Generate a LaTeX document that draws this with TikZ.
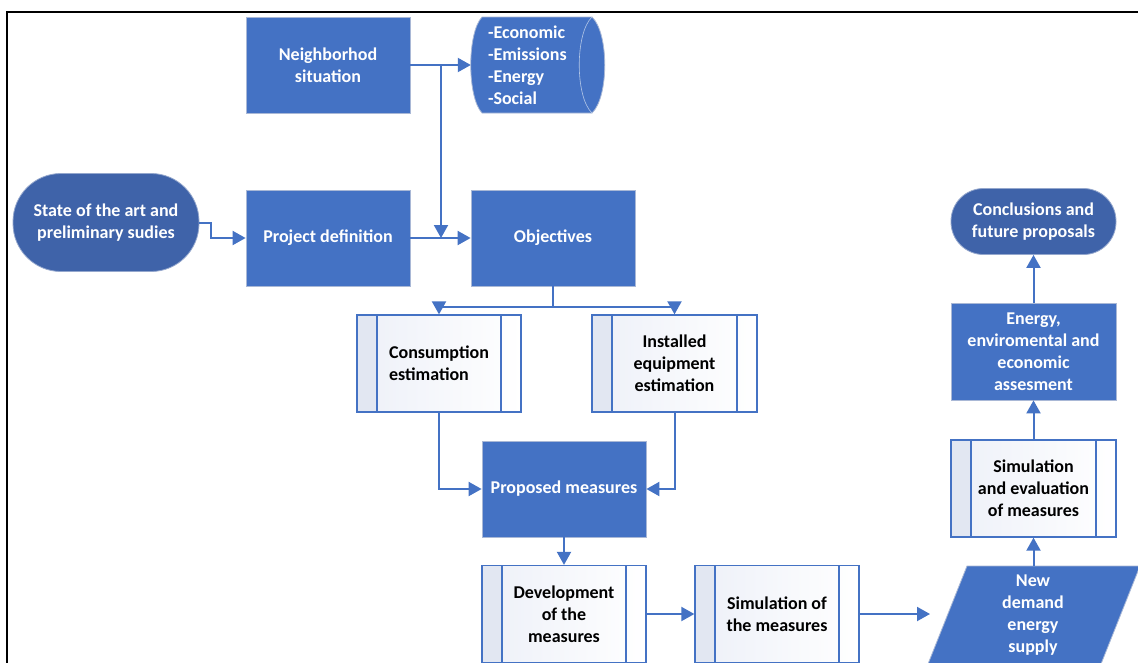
\documentclass[tikz,border=0pt]{standalone}
\usepackage{fontspec}
\setmainfont{Carlito}
\usetikzlibrary{arrows.meta,calc}
\definecolor{mainblue}{HTML}{4472C4}
\definecolor{darkblue}{HTML}{3F63A9}
\definecolor{edgegray}{HTML}{A9B8D6}
\definecolor{stripblue}{HTML}{E2E7F2}
\definecolor{shadeblue}{HTML}{EDF0F8}
\tikzset{
  every node/.style={font=\fontsize{18}{22}\selectfont\bfseries},
  fillbox/.style={rectangle, fill=mainblue, draw=edgegray, line width=0.8pt, text=white,
    minimum width=164pt, minimum height=96pt, align=center, inner sep=2pt},
  stadium/.style={rectangle, fill=darkblue, draw=edgegray!80!darkblue, line width=0.8pt, text=white,
    align=center, inner sep=2pt},
  subproc/.style={rectangle, draw=mainblue, line width=1.3pt, text=black,
    minimum width=164pt, minimum height=97pt, align=center, inner sep=2pt,
    left color=shadeblue, right color=white,
    path picture={
      \fill[stripblue] (path picture bounding box.north west) rectangle ([xshift=20pt]path picture bounding box.south west);
      \draw[mainblue, line width=1.3pt] ([xshift=20pt]path picture bounding box.north west) -- ([xshift=20pt]path picture bounding box.south west);
      \draw[mainblue, line width=1.3pt] ([xshift=-20pt]path picture bounding box.north east) -- ([xshift=-20pt]path picture bounding box.south east);
    }},
  conn/.style={draw=mainblue, line width=2pt, -{Triangle[length=13pt,width=14pt]}},
  plain/.style={draw=mainblue, line width=2pt},
}
\begin{document}
\begin{tikzpicture}[x=1pt,y=-1pt]
\useasboundingbox (0,0) rectangle (1138,662);
\fill[white] (0,0) rectangle (1138,662);
% frame
\draw[black, line width=2pt] (7,664) -- (7,12) -- (1140,12);

% cylinder shape
\path[fill=mainblue, draw=edgegray, line width=0.8pt] (482,17) -- (592,17)
  .. controls (609,33) and (609,97) .. (592,113) -- (482,113)
  .. controls (467,97) and (467,33) .. (482,17) -- cycle;
\draw[white!60!mainblue, line width=0.6pt] (592,17) .. controls (575,33) and (575,97) .. (592,113);
\node[text=white, text width=100pt, align=left, inner sep=0pt, minimum width=134pt, minimum height=96pt] (cyl) at (538,65) {-Economic\\-Emissions\\-Energy\\-Social};

% parallelogram
\path[fill=mainblue, draw=edgegray, line width=0.8pt] (967,566) -- (1140,566) -- (1101,664) -- (928,664) -- cycle;
\node[text=white, align=center, inner sep=0pt] (nd) at (1033,615) {New\\demand\\energy\\supply};

% nodes
\node[fillbox] (nb) at (328,65) {Neighborhod\\situation};
\node[stadium, minimum width=186pt, minimum height=98pt, rounded corners=48pt] (st) at (106,222.5) {State of the art and\\preliminary sudies};
\node[fillbox] (pd) at (328,238) {Project definition};
\node[fillbox] (ob) at (553,238) {Objectives};
\node[subproc, align=left] (ce) at (439,363.5) {Consumption\\estimation};
\node[subproc, minimum width=165pt] (ie) at (674.5,363.5) {Installed\\equipment\\estimation};
\node[fillbox] (pm) at (564,489) {Proposed measures};
\node[subproc] (dm) at (564,614) {Development\\of the\\measures};
\node[subproc] (sm) at (777,614) {Simulation of\\the measures};
\node[subproc, minimum width=165pt] (se) at (1033.5,488.5) {Simulation\\and evaluation\\of measures};
\node[fillbox, minimum width=165pt, minimum height=97pt] (ea) at (1033.5,351.5) {Energy,\\enviromental and\\economic\\assesment};
\node[stadium, minimum width=165pt, minimum height=66pt, rounded corners=32.5pt] (cf) at (1033.5,221.5) {Conclusions and\\future proposals};

% connectors
\coordinate (j1) at (441,65);
\coordinate (ndin) at (930,614);
\draw[conn] (nb.east) -- (cyl.west);
\draw[conn] (j1) -- (j1 |- pd.east);
\draw[conn] (pd.east) -- (ob.west);
\draw[conn] (st.east) -- ++(12,0) |- (pd.west);
\draw[plain] (ob.south) -- ++(0,21) coordinate (j2);
\draw[conn] (j2) -| (ce.north);
\draw[conn] (j2) -| (ie.north);
\draw[conn] (ce.south) |- (pm.west);
\draw[conn] (ie.south) |- (pm.east);
\draw[conn] (pm.south) -- (dm.north);
\draw[conn] (dm.east) -- (sm.west);
\draw[conn] (sm.east) -- (ndin);
\draw[conn] (1033.5,566) -- (se.south);
\draw[conn] (se.north) -- (ea.south);
\draw[conn] (ea.north) -- (cf.south);
\end{tikzpicture}
\end{document}
